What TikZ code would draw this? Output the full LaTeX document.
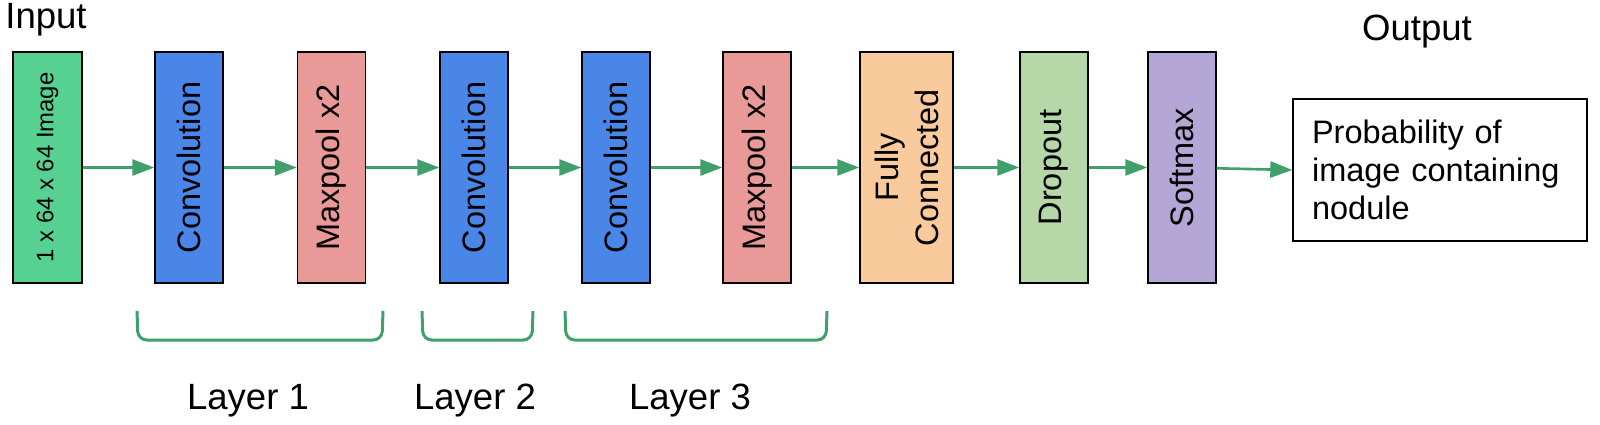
\documentclass[tikz,border=0pt]{standalone}
\usepackage{fontspec}
\setmainfont{Liberation Sans}
\usepackage{xcolor}
\usetikzlibrary{arrows.meta}
\definecolor{inpgreen}{HTML}{57D191}
\definecolor{convblue}{HTML}{4A86E8}
\definecolor{poolred}{HTML}{EA9999}
\definecolor{fcorange}{HTML}{F9CB9C}
\definecolor{dropgreen}{HTML}{B6D7A8}
\definecolor{softpurple}{HTML}{B4A7D6}
\definecolor{flowgreen}{HTML}{3FA06C}

\begin{document}
\begin{tikzpicture}[x=0.02cm, y=-0.02cm,
    box/.style={draw=black, line width=0.8pt, rotate=90, inner sep=0pt,
      minimum width=4.62cm, minimum height=1.36cm,
      font=\fontsize{18.5}{22.7}\selectfont, align=center},
    flow/.style={draw=flowgreen, line width=1.5pt,
      -{Triangle[length=0.44cm, width=0.32cm]}},
    brace/.style={draw=flowgreen, line width=1.7pt, rounded corners=5pt},
    caption/.style={inner sep=0pt, anchor=base, font=\fontsize{20.8}{25}\selectfont}]
        \useasboundingbox (0,0) rectangle (1600,424);
        % CNN pipeline for nodule classification
        \node[box, fill=inpgreen, minimum height=1.38cm, font=\fontsize{13.6}{16}\selectfont] (inp) at (47.5,167.5) {1 x 64 x 64 Image};
        \node[box, fill=convblue] (conv1) at (189,167.5) {Convolution};
        \node[box, fill=poolred] (pool1) at (331.5,167.5) {Maxpool x2};
        \node[box, fill=convblue] (conv2) at (474,167.5) {Convolution};
        \node[box, fill=convblue] (conv3) at (616,167.5) {Convolution};
        \node[box, fill=poolred] (pool2) at (757,167.5) {Maxpool x2};
        \node[box, fill=fcorange, minimum height=1.86cm] (fc) at (906.5,167.5) {Fully\\Connected};
        \node[box, fill=dropgreen] (drop) at (1054,167.5) {Dropout};
        \node[box, fill=softpurple] (soft) at (1182,167.5) {Softmax};
        \node[draw=black, line width=0.8pt, minimum width=5.88cm, minimum height=2.84cm,
          text width=5.12cm, align=left, inner sep=0pt,
          font=\fontsize{18.5}{21.6}\selectfont] (out) at (1440,170)
          {Probability of\\image containing\\nodule};
        \draw[flow] (inp) -- (conv1);
        \draw[flow] (conv1) -- (pool1);
        \draw[flow] (pool1) -- (conv2);
        \draw[flow] (conv2) -- (conv3);
        \draw[flow] (conv3) -- (pool2);
        \draw[flow] (pool2) -- (fc);
        \draw[flow] (fc) -- (drop);
        \draw[flow] (drop) -- (soft);
        \draw[flow] (soft) -- (out.west);
        \node[caption, anchor=base west] (inlabel) at (5,28) {Input};
        \node[caption] (outlabel) at (1417,40) {Output};
        \draw[brace] (137,311) -- (138,340) -- (382,340) -- (383,311);
        \draw[brace] (422,311) -- (423,340) -- (532,340) -- (533,311);
        \draw[brace] (565,311) -- (566,340) -- (826,340) -- (827,311);
        \node[caption] (layer1) at (248,409) {Layer 1};
        \node[caption] (layer2) at (475,409) {Layer 2};
        \node[caption] (layer3) at (690,409) {Layer 3};
    \end{tikzpicture}
\end{document}
